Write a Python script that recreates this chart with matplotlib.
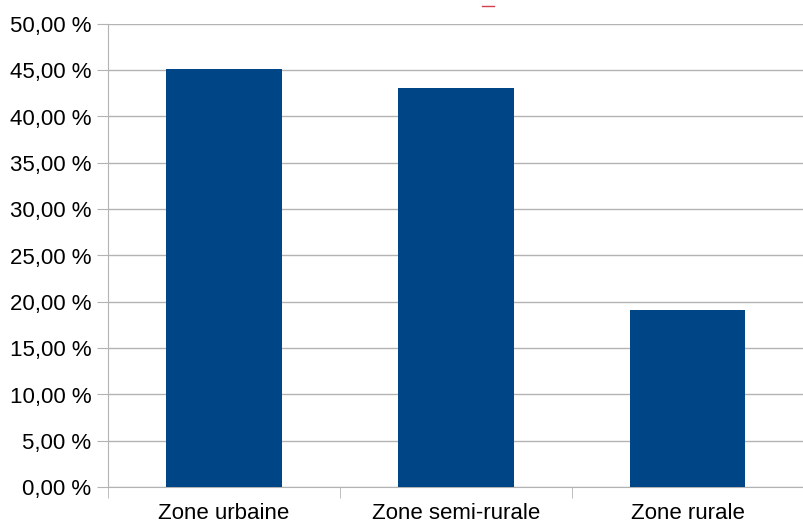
"""Share by zone type - bar chart"""
import matplotlib.pyplot as plt
from matplotlib.lines import Line2D
from matplotlib.ticker import FuncFormatter

categories = ["Zone urbaine", "Zone semi-rurale", "Zone rurale"]
values = [45.12, 43.08, 19.1]

plt.rcParams['font.family'] = ['Liberation Sans', 'DejaVu Sans']

W, H = 803, 522
fig = plt.figure(figsize=(W / 100 + 0.004, H / 100 + 0.004), dpi=100)
ax = fig.add_axes([108 / W, 35 / H, 695 / W, 463 / H])

x = list(range(len(categories)))
ax.bar(x, values, width=0.5, color='#004586', zorder=3)

ax.set_ylim(0, 50)
ax.set_yticks(range(0, 51, 5))
ax.yaxis.set_major_formatter(FuncFormatter(lambda v, p: f"{v:.2f} %".replace('.', ',')))
ax.set_xlim(-0.5, -0.5 + 695 / 235)

# category labels in the middle, tick marks at the boundaries
ax.set_xticks(x)
ax.set_xticklabels(categories)
ax.set_xticks([i - 0.5 for i in range(len(categories) + 1)], minor=True)
ax.tick_params(axis='x', which='major', length=0, pad=11, labelsize=16)
ax.tick_params(axis='x', which='minor', length=8, color='#b3b3b3')
ax.tick_params(axis='y', length=8, color='#b3b3b3', labelsize=16, pad=4)

ax.grid(axis='y', color='#b3b3b3', linewidth=1, zorder=0)
for side in ['top', 'right']:
    ax.spines[side].set_visible(False)
for side in ['left', 'bottom']:
    ax.spines[side].set_color('#b3b3b3')

# small red dash at the top
fig.add_artist(Line2D([482 / W, 494 / W], [1 - 6 / H, 1 - 6 / H], color='#d04050', linewidth=1))

fig.savefig("out.png", dpi=100)
